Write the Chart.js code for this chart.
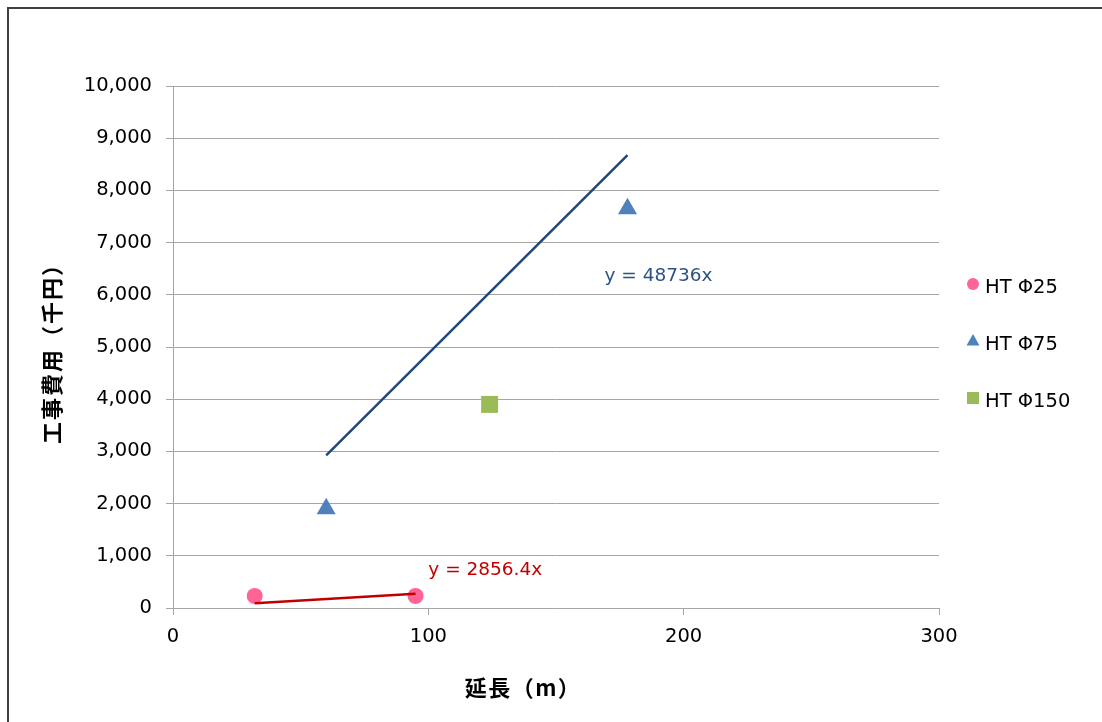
<!DOCTYPE html>
<html lang="ja">
<head>
<meta charset="utf-8">
<title>延長と工事費用</title>
<script src="https://cdn.jsdelivr.net/npm/chart.js@4/dist/chart.umd.min.js"></script>
<style>
  html, body { margin: 0; padding: 0; background: #fff; }
  #wrap { width: 1102px; height: 722px; position: relative; }
  canvas { display: block; }
</style>
</head>
<body>
<div id="wrap"><canvas id="c" width="1102" height="722"></canvas></div>
<script>
// Series names
const seriesNames = ['HT Φ25', 'HT Φ75', 'HT Φ150'];

// 延長 (m) and 工事費用 (千円) for each series
const phi25Length = [32, 95];
const phi25Cost = [230, 230];
const phi75Length = [60, 178];
const phi75Cost = [1900, 7650];
const phi150Length = [124];
const phi150Cost = [3900];

// Trendline coefficients as shown in the equations (千円 per km)
const trendCoef = [2856.4, 48736];
const trendLabels = ['y = 2856.4x', 'y = 48736x'];

// Axis titles
const xTitle = '延長（m）';
const yTitle = '工事費用（千円）';

// Axis ranges and tick steps
const xRange = [0, 300];
const xStep = 100;
const yRange = [0, 10000];
const yStep = 1000;

const toPoints = (xs, ys) => xs.map((x, i) => ({ x: x, y: ys[i] }));
// Trendline through the origin, spanning the series' own length range (m -> km)
const trendPoints = (xs, coef) => {
  const lo = Math.min(...xs), hi = Math.max(...xs);
  return [lo, hi].map(x => ({ x: x, y: coef * x / 1000 }));
};

const LATIN = "'DejaVu Sans', Verdana, sans-serif";
const CJK = "'Noto Sans CJK JP', 'Noto Sans CJK SC', sans-serif";
const GRID = '#A6A6A6';

const colors = {
  phi25: '#FF6496',
  phi75: '#4F81BD',
  phi150: '#9BBB59',
  trend25: '#C00000',
  trend75: '#1F497D'
};

const datasets = [
  { label: seriesNames[0], data: toPoints(phi25Length, phi25Cost), pointStyle: 'circle', pointRadius: 8,
    backgroundColor: colors.phi25, borderColor: colors.phi25, borderWidth: 0, showLine: false, order: 1 },
  { label: seriesNames[1], data: toPoints(phi75Length, phi75Cost), pointStyle: 'triangle', pointRadius: 11,
    backgroundColor: colors.phi75, borderColor: colors.phi75, borderWidth: 0, showLine: false, order: 1 },
  { label: seriesNames[2], data: toPoints(phi150Length, phi150Cost), pointStyle: 'rect', pointRadius: 12,
    backgroundColor: colors.phi150, borderColor: colors.phi150, borderWidth: 0, showLine: false, order: 1 },
  { label: 'trend25', data: trendPoints(phi25Length, trendCoef[0]), showLine: true, pointRadius: 0,
    borderColor: colors.trend25, borderWidth: 2.5, fill: false, order: 0 },
  { label: 'trend75', data: trendPoints(phi75Length, trendCoef[1]), showLine: true, pointRadius: 0,
    borderColor: colors.trend75, borderWidth: 2.5, fill: false, order: 0 }
];

// White page with the dark frame along the top and left
const framePlugin = {
  id: 'frame',
  beforeDraw(chart) {
    const ctx = chart.ctx;
    ctx.save();
    ctx.fillStyle = '#fff';
    ctx.fillRect(0, 0, chart.width, chart.height);
    ctx.strokeStyle = '#404040';
    ctx.lineWidth = 2;
    ctx.strokeRect(8, 8, chart.width + 20, chart.height + 20);
    ctx.restore();
  }
};

// Equation labels next to the trendlines, anchored in data space
const equationPlugin = {
  id: 'equations',
  afterDatasetsDraw(chart) {
    const { ctx, scales: { x, y } } = chart;
    const anchors = [[100, 730], [169, 6360]];
    const textColors = ['#C00000', '#2C5282'];
    ctx.save();
    ctx.font = '18.5px ' + LATIN;
    ctx.textBaseline = 'middle';
    ctx.textAlign = 'left';
    trendLabels.forEach((t, i) => {
      ctx.fillStyle = textColors[i];
      ctx.fillText(t, x.getPixelForValue(anchors[i][0]), y.getPixelForValue(anchors[i][1]));
    });
    ctx.restore();
  }
};

// Legend on the right and both axis titles
const sideLegendPlugin = {
  id: 'sideLegend',
  afterDraw(chart) {
    const ctx = chart.ctx;
    const area = chart.chartArea;
    ctx.save();
    const mx = area.right + 34;
    const rows = [284, 341, 398];
    seriesNames.forEach((name, i) => {
      const ds = chart.data.datasets[i];
      const cy = rows[i];
      ctx.fillStyle = ds.backgroundColor;
      ctx.beginPath();
      if (ds.pointStyle === 'circle') {
        ctx.arc(mx, cy, 6, 0, Math.PI * 2);
      } else if (ds.pointStyle === 'triangle') {
        ctx.moveTo(mx, cy - 7);
        ctx.lineTo(mx + 6.5, cy + 4.5);
        ctx.lineTo(mx - 6.5, cy + 4.5);
        ctx.closePath();
      } else {
        ctx.rect(mx - 6, cy - 6, 12, 12);
      }
      ctx.fill();
      ctx.fillStyle = '#000';
      ctx.font = '19.5px ' + LATIN;
      ctx.textBaseline = 'middle';
      ctx.textAlign = 'left';
      ctx.fillText(name, mx + 12, cy + 4);
    });

    ctx.fillStyle = '#000';
    ctx.font = 'bold 22px ' + CJK;
    ctx.textAlign = 'center';
    ctx.textBaseline = 'middle';
    ctx.letterSpacing = '1.5px';
    ctx.fillText(xTitle, 523, 688);

    ctx.letterSpacing = '2px';
    ctx.translate(52, (area.top + area.bottom) / 2 + 1);
    ctx.rotate(-Math.PI / 2);
    ctx.fillText(yTitle, 0, 0);
    ctx.restore();
  }
};

new Chart(document.getElementById('c'), {
  type: 'scatter',
  data: { datasets: datasets },
  options: {
    responsive: false,
    animation: false,
    layout: { padding: { top: 86, right: 163, left: 0, bottom: 0 } },
    plugins: {
      legend: { display: false },
      tooltip: { enabled: false }
    },
    scales: {
      x: {
        type: 'linear',
        min: xRange[0], max: xRange[1],
        ticks: { stepSize: xStep, color: '#000', font: { family: LATIN, size: 19.5 }, padding: 10, maxRotation: 0 },
        grid: { drawOnChartArea: false, drawTicks: true, tickLength: 7, color: GRID },
        border: { color: GRID, width: 1 },
        afterFit(scale) { scale.height = 722 - 608; }
      },
      y: {
        type: 'linear',
        min: yRange[0], max: yRange[1],
        ticks: {
          stepSize: yStep, color: '#000', font: { family: LATIN, size: 19.5 }, padding: 14,
          callback: v => v.toLocaleString('en-US')
        },
        grid: { color: GRID, tickLength: 7, lineWidth: 1 },
        border: { color: GRID, width: 1 },
        afterFit(scale) { scale.width = 173; }
      }
    }
  },
  plugins: [framePlugin, equationPlugin, sideLegendPlugin]
});
</script>
</body>
</html>
